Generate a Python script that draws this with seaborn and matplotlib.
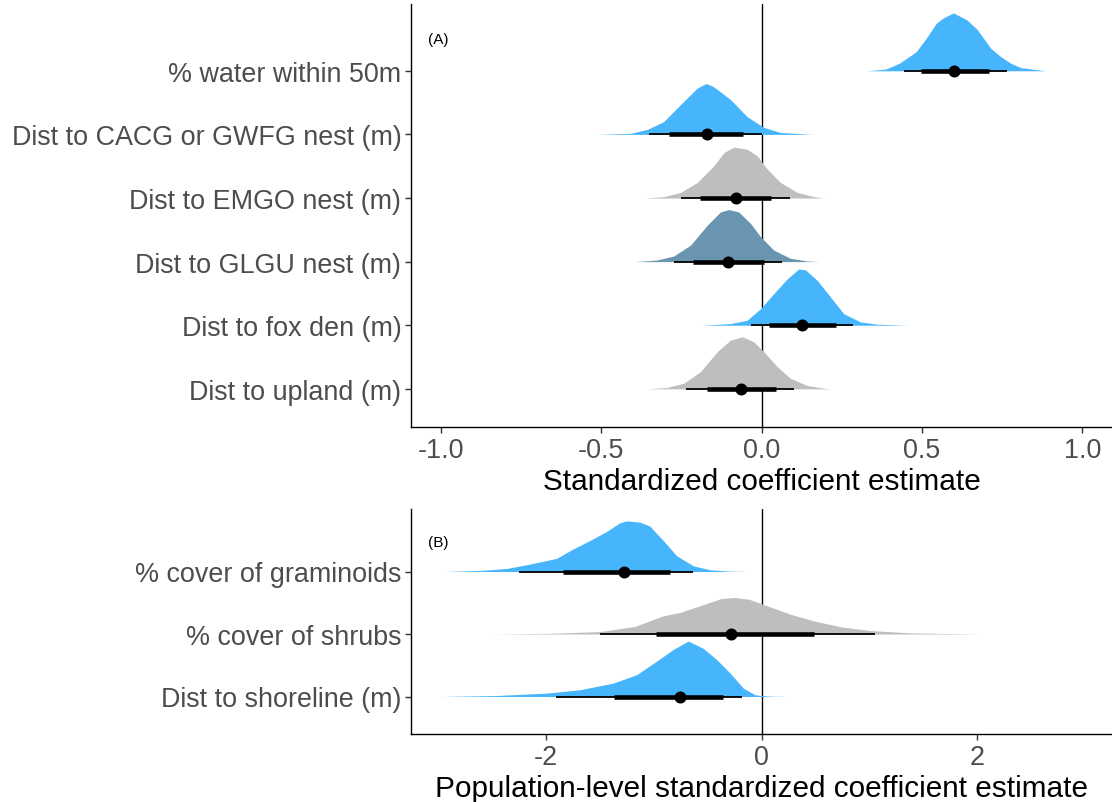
import numpy as np
import matplotlib
matplotlib.use("Agg")
import matplotlib.pyplot as plt
import seaborn as sns

# ---------------- Panel A data (top to bottom) ----------------
labels_a = ["% water within 50m", "Dist to CACG or GWFG nest (m)", "Dist to EMGO nest (m)",
            "Dist to GLGU nest (m)", "Dist to fox den (m)", "Dist to upland (m)"]
colors_a = ["#47B5FC", "#47B5FC", "#BEBEBE", "#6A95B0", "#47B5FC", "#BEBEBE"]
median_a = [0.601, -0.171, -0.080, -0.105, 0.125, -0.063]
q66_lo_a = [0.498, -0.287, -0.193, -0.213, 0.023, -0.171]
q66_hi_a = [0.709, -0.059, 0.030, 0.007, 0.231, 0.044]
q95_lo_a = [0.445, -0.349, -0.250, -0.273, -0.034, -0.234]
q95_hi_a = [0.764, 0.003, 0.088, 0.064, 0.286, 0.101]

dens_x_water = [0.328, 0.387, 0.429, 0.482, 0.513, 0.545, 0.566, 0.598, 0.640, 0.672, 0.714, 0.746, 0.777, 0.809, 0.885]
dens_h_water = [0.0, 0.027, 0.117, 0.30, 0.51, 0.75, 0.83, 0.91, 0.80, 0.65, 0.355, 0.22, 0.117, 0.048, 0.0]
dens_x_cacg = [-0.517, -0.408, -0.356, -0.305, -0.252, -0.200, -0.172, -0.149, -0.097, -0.045, 0.007, 0.059, 0.159]
dens_h_cacg = [0.0, 0.016, 0.078, 0.20, 0.47, 0.73, 0.80, 0.75, 0.55, 0.28, 0.11, 0.03, 0.0]
dens_x_emgo = [-0.367, -0.304, -0.252, -0.200, -0.149, -0.117, -0.086, -0.045, -0.013, 0.018, 0.059, 0.111, 0.163, 0.194]
dens_h_emgo = [0.0, 0.021, 0.089, 0.245, 0.505, 0.714, 0.80, 0.766, 0.661, 0.453, 0.245, 0.089, 0.021, 0.0]
dens_x_glgu = [-0.393, -0.325, -0.273, -0.221, -0.169, -0.128, -0.102, -0.071, -0.034, -0.003, 0.038, 0.090, 0.142, 0.179]
dens_h_glgu = [0.0, 0.026, 0.089, 0.26, 0.573, 0.78, 0.818, 0.78, 0.599, 0.391, 0.182, 0.052, 0.01, 0.0]
dens_x_fox = [-0.185, -0.097, -0.045, -0.003, 0.038, 0.080, 0.116, 0.137, 0.174, 0.215, 0.256, 0.308, 0.360, 0.459]
dens_h_fox = [0.0, 0.026, 0.078, 0.26, 0.495, 0.729, 0.885, 0.87, 0.703, 0.443, 0.182, 0.052, 0.016, 0.0]
dens_x_upland = [-0.356, -0.294, -0.242, -0.190, -0.138, -0.097, -0.060, -0.024, 0.007, 0.049, 0.090, 0.142, 0.194, 0.215]
dens_h_upland = [0.0, 0.021, 0.089, 0.271, 0.583, 0.766, 0.818, 0.74, 0.583, 0.349, 0.167, 0.052, 0.01, 0.0]
dens_x_a = [dens_x_water, dens_x_cacg, dens_x_emgo, dens_x_glgu, dens_x_fox, dens_x_upland]
dens_h_a = [dens_h_water, dens_h_cacg, dens_h_emgo, dens_h_glgu, dens_h_fox, dens_h_upland]
ticks_a = [-1.0, -0.5, 0.0, 0.5, 1.0]

# ---------------- Panel B data (top to bottom) ----------------
labels_b = ["% cover of graminoids", "% cover of shrubs", "Dist to shoreline (m)"]
colors_b = ["#47B5FC", "#BEBEBE", "#47B5FC"]
median_b = [-1.273, -0.283, -0.756]
q66_lo_b = [-1.845, -0.974, -1.366]
q66_hi_b = [-0.849, 0.485, -0.360]
q95_lo_b = [-2.248, -1.499, -1.901]
q95_hi_b = [-0.639, 1.051, -0.184]

dens_x_gram = [-2.958, -2.613, -2.365, -2.148, -1.901, -1.747, -1.592, -1.437, -1.313, -1.251, -1.128, -1.035, -0.911, -0.787, -0.633, -0.478, -0.292, -0.113]
dens_h_gram = [0.0, 0.016, 0.048, 0.118, 0.21, 0.36, 0.495, 0.64, 0.78, 0.81, 0.79, 0.726, 0.495, 0.253, 0.091, 0.027, 0.005, 0.0]
dens_x_shrub = [-2.501, -1.972, -1.493, -1.172, -0.916, -0.756, -0.564, -0.372, -0.244, -0.116, 0.044, 0.267, 0.492, 0.748, 1.004, 1.387, 2.059]
dens_h_shrub = [0.0, 0.011, 0.039, 0.122, 0.289, 0.345, 0.456, 0.567, 0.584, 0.556, 0.456, 0.317, 0.206, 0.111, 0.056, 0.017, 0.0]
dens_x_shore = [-2.968, -2.458, -1.994, -1.684, -1.375, -1.158, -0.973, -0.818, -0.679, -0.540, -0.416, -0.292, -0.169, -0.060, 0.079, 0.258]
dens_h_shore = [0.0, 0.016, 0.054, 0.108, 0.215, 0.349, 0.565, 0.753, 0.887, 0.77, 0.591, 0.376, 0.134, 0.027, 0.005, 0.0]
dens_x_b = [dens_x_gram, dens_x_shrub, dens_x_shore]
dens_h_b = [dens_h_gram, dens_h_shrub, dens_h_shore]
ticks_b = [-2, 0, 2]

# ---------------- styling ----------------
sns.set_theme(style="ticks")
plt.rcParams["font.family"] = ["Liberation Sans", "DejaVu Sans"]

fig = plt.figure(figsize=(11.12, 8.03), dpi=100)
ax_a = fig.add_axes([411 / 1112, (803 - 428) / 803, (1112 - 411) / 1112, 423 / 803])
ax_b = fig.add_axes([411 / 1112, (803 - 735) / 803, (1112 - 411) / 1112, 225 / 803])

TICK_COL = "#4D4D4D"


def draw_panel(ax, labels, colors, med, lo66, hi66, lo95, hi95, dx, dh, xlim, ylim, ticks, ticklabels,
               xlabel, tag, tag_xy):
    n = len(labels)
    pos = [n - i for i in range(n)]  # top row gets highest position
    ax.axvline(0, color="black", lw=1.0, zorder=1)
    for i in range(n):
        y0 = pos[i]
        xs = np.asarray(dx[i])
        hs = np.asarray(dh[i])
        ax.fill_between(xs, y0, y0 + hs, color=colors[i], lw=0, zorder=2 + i * 0.01)
        ax.hlines(y0, lo95[i], hi95[i], color="black", lw=1.3, zorder=3)
        ax.hlines(y0, lo66[i], hi66[i], color="black", lw=3.3, zorder=3.1)
    sns.scatterplot(x=med, y=pos, ax=ax, color="black", s=75, edgecolor="black", linewidth=0, zorder=4,
                    legend=False)
    ax.set_xlim(*xlim)
    ax.set_ylim(*ylim)
    ax.set_yticks(pos)
    ax.set_yticklabels(labels)
    ax.set_xticks(ticks)
    ax.set_xticklabels(ticklabels)
    ax.tick_params(axis="both", labelsize=19.4, colors=TICK_COL, length=4, width=1.0, pad=3)
    ax.tick_params(axis="both", color="#333333")
    for t in ax.get_xticklabels() + ax.get_yticklabels():
        t.set_color(TICK_COL)
    ax.set_xlabel(xlabel, fontsize=21.4, color="black", labelpad=3)
    ax.set_ylabel("")
    for s in ["top", "right"]:
        ax.spines[s].set_visible(False)
    for s in ["left", "bottom"]:
        ax.spines[s].set_color("black")
        ax.spines[s].set_linewidth(1.0)
    ax.text(tag_xy[0], tag_xy[1], tag, fontsize=11, color="black", ha="left", va="center")


draw_panel(ax_a, labels_a, colors_a, median_a, q66_lo_a, q66_hi_a, q95_lo_a, q95_hi_a,
           dens_x_a, dens_h_a, (-1.092, 1.092), (0.4, 7.05), ticks_a,
           ["-1.0", "-0.5", "0.0", "0.5", "1.0"], "Standardized coefficient estimate", "(A)", (-1.04, 6.5))
draw_panel(ax_b, labels_b, colors_b, median_b, q66_lo_b, q66_hi_b, q95_lo_b, q95_hi_b,
           dens_x_b, dens_h_b, (-3.25, 3.25), (0.4, 4.0), ticks_b,
           ["-2", "0", "2"], "Population-level standardized coefficient estimate", "(B)", (-3.09, 3.47))

fig.savefig("out.png", dpi=100)
